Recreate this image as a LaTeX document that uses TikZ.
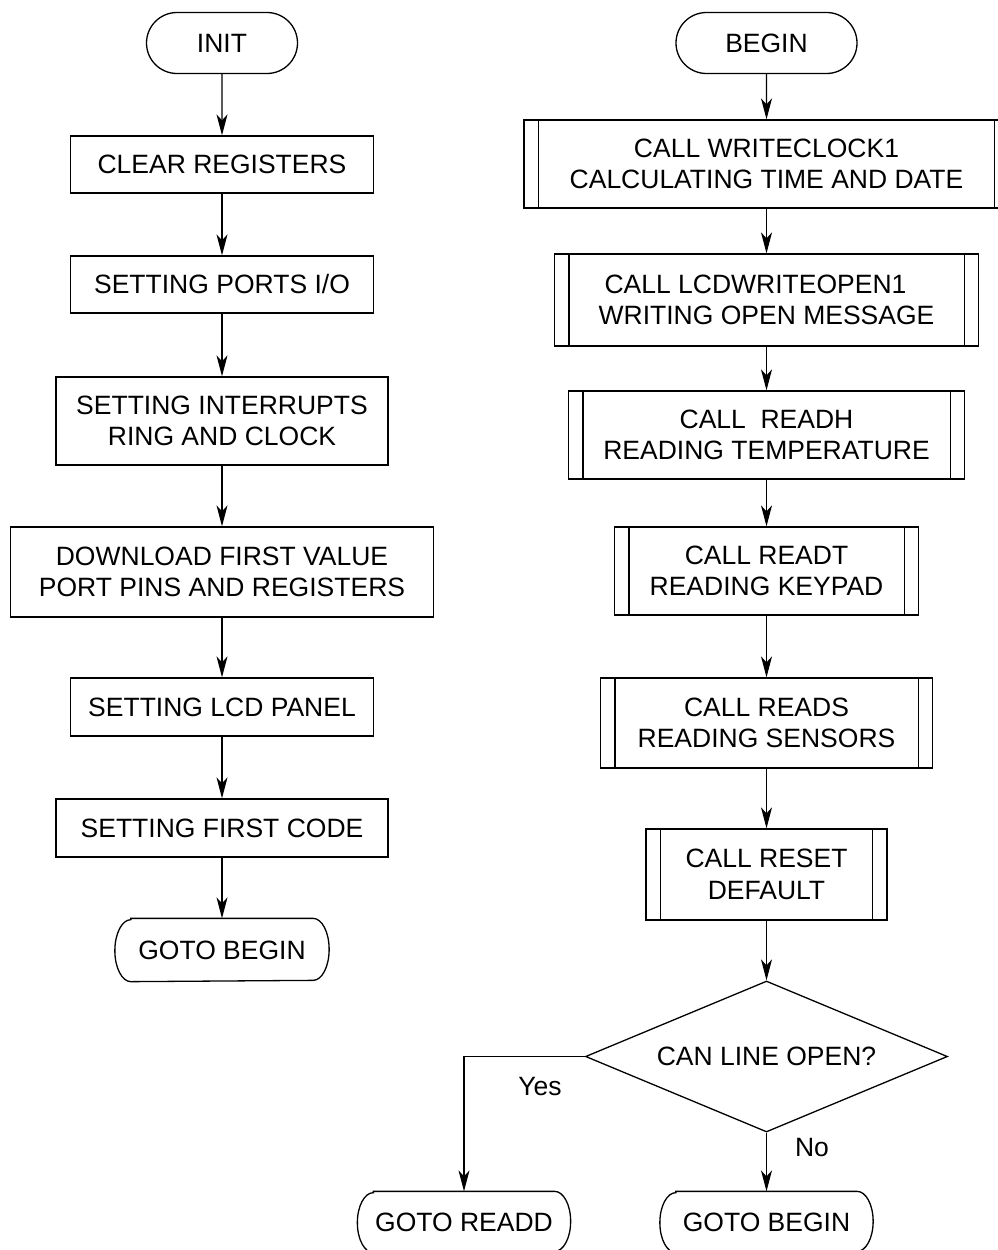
\documentclass[tikz,border=0pt]{standalone}
\usepackage{fontspec}
\setmainfont{Liberation Sans}
\usetikzlibrary{shapes.geometric,shapes.misc,arrows.meta,calc}
\tikzset{
  base/.style={draw, line width=1.3pt, inner sep=0pt, align=center,
    font=\fontsize{26.5}{31.5}\selectfont},
  procbox/.style={base, rectangle},
  subbox/.style={base, rectangle},
  term/.style={base, rounded rectangle},
  gotobox/.style={base, draw=none, rectangle},
  outline/.style={line width=1.3pt},
  decision/.style={base, diamond, aspect=2.4},
  arr/.style={line width=1.3pt, -{Stealth[length=21pt,width=11pt,inset=6pt]}},
  lbl/.style={font=\fontsize{26.5}{31.5}\selectfont, inner sep=0pt}
}
\newcommand\gotooutline[2]{% node name, half height
  \draw[outline] ($(#1.north west)+(16,0)$) -- ($(#1.north east)+(-16,0)$)
    arc[start angle=-90, end angle=90, x radius=16, y radius=#2]
    -- ($(#1.south west)+(16,0)$)
    arc[start angle=90, end angle=270, x radius=16, y radius=#2] -- cycle;}
\begin{document}
\begin{tikzpicture}[x=1pt,y=-1pt]
\useasboundingbox (0,0) rectangle (998,1250);
% left column
\node[term, minimum width=151, minimum height=61] (init) at (222,43) {INIT};
\node[procbox, minimum width=303, minimum height=57] (clear) at (222,164.5) {CLEAR REGISTERS};
\node[procbox, minimum width=303, minimum height=57] (ports) at (222,284.5) {SETTING PORTS I/O};
\node[procbox, minimum width=332, minimum height=88] (intr) at (222,421) {SETTING INTERRUPTS\\RING AND CLOCK};
\node[procbox, minimum width=423, minimum height=90] (dl) at (222,572) {DOWNLOAD FIRST VALUE\\PORT PINS AND REGISTERS};
\node[procbox, minimum width=303, minimum height=58] (lcd) at (222,707) {SETTING LCD PANEL};
\node[procbox, minimum width=332, minimum height=58] (code) at (222,828) {SETTING FIRST CODE};
\node[gotobox, minimum width=213, minimum height=62] (gotoL) at (222,950) {GOTO BEGIN};
% right column
\node[term, minimum width=181, minimum height=61] (begin) at (766.5,43) {BEGIN};
\node[subbox, minimum width=485, minimum height=88] (wc) at (766.5,164) {CALL WRITECLOCK1\\CALCULATING TIME AND DATE};
\node[subbox, minimum width=424, minimum height=92] (lcdw) at (766.5,300) {CALL LCDWRITEOPEN1\hspace*{22pt}\\WRITING OPEN MESSAGE};
\node[subbox, minimum width=396, minimum height=88] (rh) at (766.5,435) {CALL~~READH\\READING TEMPERATURE};
\node[subbox, minimum width=304, minimum height=88] (rt) at (766.5,571) {CALL READT\\READING KEYPAD};
\node[subbox, minimum width=332, minimum height=90] (rs) at (766.5,723) {CALL READS\\READING SENSORS};
\node[subbox, minimum width=241, minimum height=91] (rr) at (766.5,874.5) {CALL RESET\\DEFAULT};
\node[decision, minimum width=362, minimum height=151] (dia) at (766.5,1056.5) {CAN LINE OPEN?};
\node[gotobox, minimum width=212, minimum height=60] (gotoD) at (464,1222) {GOTO READD};
\node[gotobox, minimum width=212, minimum height=60] (gotoR) at (766.5,1222) {GOTO BEGIN};
\gotooutline{gotoL}{31}
\gotooutline{gotoD}{30}
\gotooutline{gotoR}{30}
% inner bars of subroutine boxes
\foreach \n in {wc,lcdw,rh,rt,rs,rr}{
  \draw[outline] ([xshift=15pt]\n.north west) -- ([xshift=15pt]\n.south west)
    ([xshift=-15pt]\n.north east) -- ([xshift=-15pt]\n.south east);
}
% labels
\node[lbl] (yes) at (540,1086) {Yes};
\node[lbl] (no) at (812,1147) {No};
% connectors
\draw[arr] (init) -- (clear);
\draw[arr] (clear) -- (ports);
\draw[arr] (ports) -- (intr);
\draw[arr] (intr) -- (dl);
\draw[arr] (dl) -- (lcd);
\draw[arr] (lcd) -- (code);
\draw[arr] (code) -- (gotoL);
\draw[arr] (begin) -- (wc);
\draw[arr] (wc) -- (lcdw);
\draw[arr] (lcdw) -- (rh);
\draw[arr] (rh) -- (rt);
\draw[arr] (rt) -- (rs);
\draw[arr] (rs) -- (rr);
\draw[arr] (rr) -- (dia);
\draw[arr] (dia.west) -| (gotoD.north);
\draw[arr] (dia.south) -- (gotoR);
\end{tikzpicture}
\end{document}
